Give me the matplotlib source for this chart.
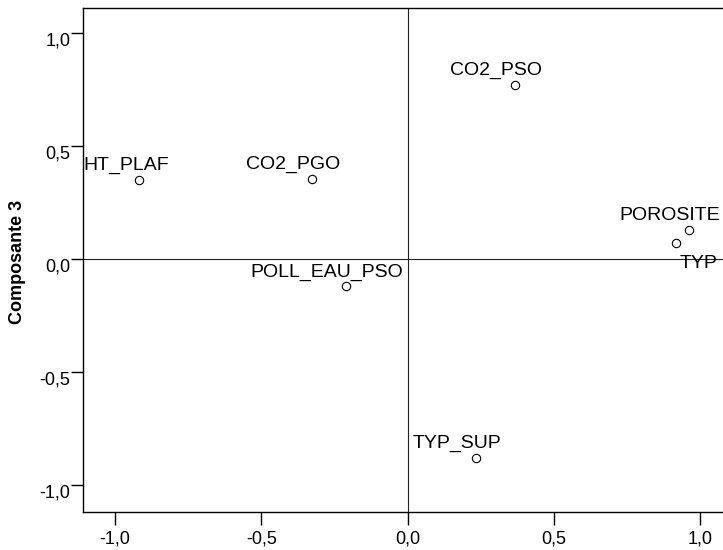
from matplotlib import pyplot as plt
from matplotlib.transforms import ScaledTranslation

plt.rcParams['font.family'] = ['Liberation Sans', 'DejaVu Sans']
plt.rcParams['font.size'] = 13

# component loadings (x: component 2?, y: component 3)
names = ['HT_PLAF', 'CO2_PGO', 'POLL_EAU_PSO', 'CO2_PSO', 'POROSITE', 'TYP', 'TYP_SUP']
comp_x = [-0.919, -0.326, -0.212, 0.366, 0.961, 0.915, 0.232]
comp_y = [0.350, 0.353, -0.122, 0.770, 0.128, 0.072, -0.882]
ticks = [-1.0, -0.5, 0.0, 0.5, 1.0]

# label offsets in pixels (dx, dy, ha) relative to the marker
label_pos = {
    'HT_PLAF': (-56, 10, 'left'),
    'TYP': (4, -25, 'left'),
}

fig = plt.figure(figsize=(7.23, 5.5), dpi=100)
ax = fig.add_axes([83 / 723, 38 / 550, 649.6 / 723, 504 / 550])

ax.axhline(0, color='#222222', lw=0.8, zorder=1)
ax.axvline(0, color='#222222', lw=0.8, zorder=1)

ax.plot(comp_x, comp_y, 'o', ms=6, mfc='white', mec='black', mew=0.8,
        ls='none', zorder=3)

px = 72 / 100  # one pixel in points
for n, x, y in zip(names, comp_x, comp_y):
    dx, dy, ha = label_pos.get(n, (-19, 10, 'center'))
    ax.annotate(n, (x, y), xytext=(dx * px, dy * px), textcoords='offset points',
                ha=ha, va='baseline', fontsize=14, annotation_clip=False)

ax.set_xlim(-1.11, 1.11)
ax.set_ylim(-1.12, 1.11)
ax.set_xticks(ticks)
ax.set_yticks(ticks)
fmt = [('%.1f' % t).replace('.', ',') for t in ticks]
ax.set_xticklabels(fmt)
ax.set_yticklabels(fmt)
ax.tick_params(direction='out', length=9, width=1, colors='black', labelsize=13)
ax.tick_params(axis='y', pad=0)
ax.tick_params(axis='x', pad=4)

for lab in ax.get_yticklabels():
    lab.set_transform(lab.get_transform() + ScaledTranslation(0, -6 / 100, fig.dpi_scale_trans))

for s in ax.spines.values():
    s.set_linewidth(1.0)

fig.text(18 / 723, 1 - 262 / 550, 'Composante 3', rotation=90, fontweight='bold',
         ha='center', va='center', fontsize=13)

fig.savefig('out.png', dpi=100)
